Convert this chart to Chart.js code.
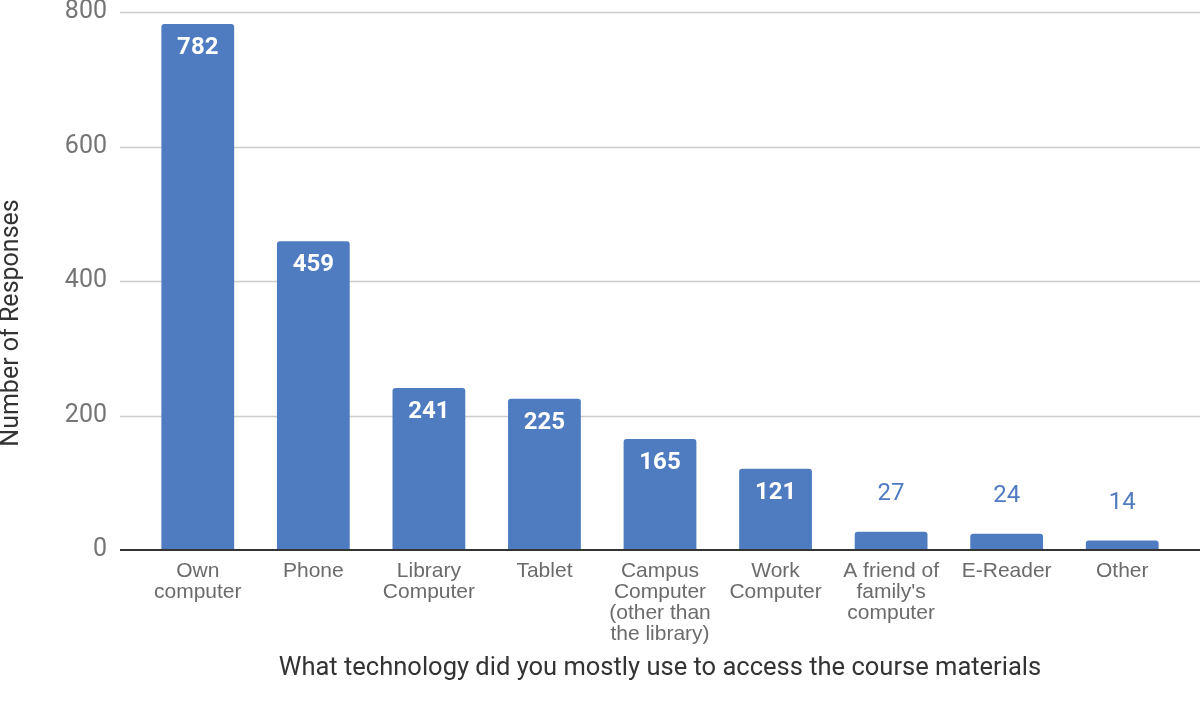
<!DOCTYPE html>
<html>
<head>
<meta charset="utf-8">
<script src="https://cdn.jsdelivr.net/npm/chart.js@4/dist/chart.umd.min.js"></script>
<style>
  html, body { margin: 0; padding: 0; background: #fff; }
  #wrap { width: 1200px; height: 712px; position: relative; }
</style>
</head>
<body>
<div id="wrap"><canvas id="chart"></canvas></div>
<script>
// chart data
const categories = [
    ['Own', 'computer'],
    'Phone',
    ['Library', 'Computer'],
    'Tablet',
    ['Campus', 'Computer', '(other than', 'the library)'],
    ['Work', 'Computer'],
    ['A friend of', "family's", 'computer'],
    'E-Reader',
    'Other'
];
const responses = [782, 459, 241, 225, 165, 121, 27, 24, 14];
const yTicks = [0, 200, 400, 600, 800];
const xTitle = 'What technology did you mostly use to access the course materials';
const yTitle = 'Number of Responses';

const barBlue = '#4f7cc0';
const FONT = 'Roboto, "Noto Sans", sans-serif';
const LABEL_FONT = '"Liberation Sans", Arial, sans-serif';

// gridlines that run a bit past the bars, plus dark base line
const gridPlugin = {
    id: 'wideGrid',
    beforeDatasetsDraw(chart) {
        const { ctx, chartArea, scales } = chart;
        ctx.save();
        ctx.strokeStyle = '#cccccc';
        ctx.lineWidth = 1.5;
        yTicks.forEach(v => {
            if (v === 0) return;
            const y = Math.round(scales.y.getPixelForValue(v)) + 0.5;
            ctx.beginPath();
            ctx.moveTo(chartArea.left - 20, y);
            ctx.lineTo(chartArea.right + 20, y);
            ctx.stroke();
        });
        ctx.restore();
    },
    afterDatasetsDraw(chart) {
        const { ctx, chartArea, scales } = chart;
        const y = scales.y.getPixelForValue(0);
        ctx.save();
        ctx.strokeStyle = '#333333';
        ctx.lineWidth = 2;
        ctx.beginPath();
        ctx.moveTo(chartArea.left - 20, y);
        ctx.lineTo(chartArea.right + 20, y);
        ctx.stroke();
        ctx.restore();
    }
};

// value labels: inside big bars, above small ones
const valueLabels = {
    id: 'valueLabels',
    afterDatasetsDraw(chart) {
        const { ctx } = chart;
        const meta = chart.getDatasetMeta(0);
        ctx.save();
        ctx.textAlign = 'center';
        ctx.textBaseline = 'middle';
        meta.data.forEach((bar, i) => {
            const v = responses[i];
            if (v > 100) {
                ctx.fillStyle = '#ffffff';
                ctx.font = 'bold 24px ' + FONT;
                ctx.fillText(String(v), bar.x, bar.y + 24);
            } else {
                ctx.fillStyle = barBlue;
                ctx.font = '24px ' + FONT;
                ctx.fillText(String(v), bar.x, bar.y - 38);
            }
        });
        ctx.restore();
    }
};

// y axis title sits lower than the plot centre in the original
const yTitlePlugin = {
    id: 'yTitle',
    afterDraw(chart) {
        const { ctx } = chart;
        ctx.save();
        ctx.translate(12, 323);
        ctx.rotate(-Math.PI / 2);
        ctx.textAlign = 'center';
        ctx.textBaseline = 'middle';
        ctx.fillStyle = '#333333';
        ctx.font = '25px ' + FONT;
        ctx.fillText(yTitle, 0, 0);
        ctx.restore();
    }
};

new Chart(document.getElementById('chart'), {
    type: 'bar',
    data: {
        labels: categories,
        datasets: [{
            data: responses,
            backgroundColor: barBlue,
            borderWidth: 0,
            borderRadius: { topLeft: 3, topRight: 3, bottomLeft: 0, bottomRight: 0 },
            borderSkipped: 'bottom',
            barPercentage: 0.63,
            categoryPercentage: 1
        }]
    },
    options: {
        responsive: true,
        maintainAspectRatio: false,
        animation: false,
        layout: { padding: { top: 12, right: 20, bottom: 0, left: 0 } },
        plugins: {
            legend: { display: false },
            tooltip: { enabled: false }
        },
        scales: {
            x: {
                grid: { display: false, drawTicks: false },
                border: { display: false },
                ticks: {
                    color: '#6b6b6b',
                    font: { family: LABEL_FONT, size: 21, lineHeight: 1.0 },
                    padding: 11,
                    autoSkip: false,
                    maxRotation: 0,
                    minRotation: 0
                },
                title: {
                    display: true,
                    text: xTitle,
                    color: '#333333',
                    font: { family: FONT, size: 25.5 },
                    padding: { top: 0, bottom: 28 }
                },
                afterFit(scale) { scale.height = 162; }
            },
            y: {
                min: 0,
                max: 800,
                grid: { display: false, drawTicks: false },
                border: { display: false },
                afterBuildTicks(scale) { scale.ticks = yTicks.map(v => ({ value: v })); },
                ticks: {
                    color: '#757575',
                    font: { family: FONT, size: 25 },
                    padding: 33
                },
                afterFit(scale) {
                    scale.width = 140;
                    scale.paddingTop = 0;
                    scale.paddingBottom = 0;
                }
            }
        }
    },
    plugins: [gridPlugin, valueLabels, yTitlePlugin]
});
</script>
</body>
</html>
